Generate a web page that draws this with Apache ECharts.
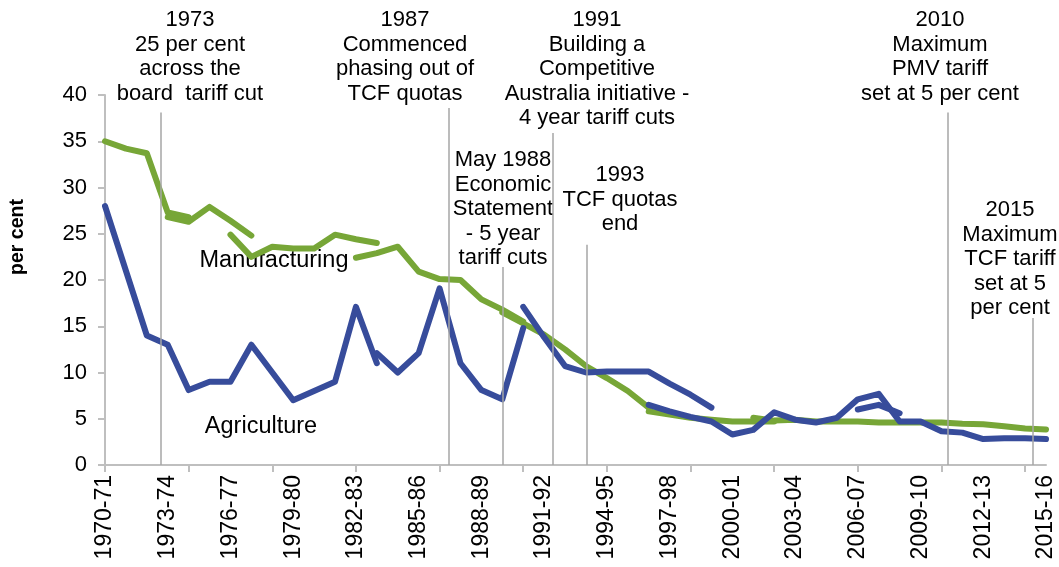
<!DOCTYPE html>
<html>
<head>
<meta charset="utf-8">
<script src="https://cdn.jsdelivr.net/npm/echarts@6.0.0/dist/echarts.min.js"></script>
<style>
  body { margin: 0; background: #fff; }
  #main { width: 1059px; height: 567px; }
</style>
</head>
<body>
<div id="main"></div>
<script>
// financial years on the category axis
var categories = ['1970-71','1971-72','1972-73','1973-74','1974-75','1975-76','1976-77','1977-78',
  '1978-79','1979-80','1980-81','1981-82','1982-83','1983-84','1984-85','1985-86','1986-87',
  '1987-88','1988-89','1989-90','1990-91','1991-92','1992-93','1993-94','1994-95','1995-96',
  '1996-97','1997-98','1998-99','1999-00','2000-01','2001-02','2002-03','2003-04','2004-05',
  '2005-06','2006-07','2007-08','2008-09','2009-10','2010-11','2011-12','2012-13','2013-14',
  '2014-15','2015-16'];

// Manufacturing: broken series (start index + values)
var mfgStarts = [0, 3, 6, 12, 19, 26, 31];
var mfgSeg1 = [35.0, 34.2, 33.7, 27.3, 26.8];
var mfgSeg2 = [26.8, 26.3, 27.9, 26.4, 24.8];
var mfgSeg3 = [24.9, 22.5, 23.6, 23.4, 23.4, 24.9, 24.4, 24.0];
var mfgSeg4 = [22.4, 22.9, 23.6, 20.9, 20.1, 20.0, 17.9, 16.8, 15.5];
var mfgSeg5 = [16.5, 15.3, 14.1, 12.5, 10.7, 9.4, 8.0, 6.2];
var mfgSeg6 = [5.8, 5.45, 5.1, 4.9, 4.7, 4.7, 4.7];
var mfgSeg7 = [5.1, 4.8, 4.9, 4.7, 4.7, 4.7, 4.6, 4.6, 4.6, 4.6, 4.45, 4.4, 4.2, 3.95, 3.85];

// Agriculture: broken series (start index + values)
var agrStarts = [0, 13, 20, 26, 36];
var agrSeg1 = [28.0, 21.0, 14.0, 13.0, 8.1, 9.0, 9.0, 13.0, 10.0, 7.0, 8.0, 9.0, 17.1, 11.0];
var agrSeg2 = [12.1, 10.0, 12.1, 19.1, 11.0, 8.1, 7.1, 14.8];
var agrSeg3 = [17.1, 13.8, 10.7, 10.0, 10.1, 10.1, 10.1, 8.8, 7.6, 6.2];
var agrSeg4 = [6.5, 5.8, 5.2, 4.7, 3.3, 3.8, 5.7, 4.9, 4.6, 5.1, 7.1, 7.7, 4.7, 4.7, 3.65, 3.5, 2.8, 2.9, 2.9, 2.8];
var agrSeg5 = [6.0, 6.5, 5.6];

// policy event markers: position in years from 1970-71, top of line (per cent)
var eventPos = [2.68, 16.45, 19.03, 21.43, 23.05, 40.32, 44.38];
var eventTop = [38.1, 38.6, 21.4, 35.9, 23.8, 38.1, 15.9];

var FONT = '"Liberation Sans", Arial, sans-serif';
var GREEN = '#77A637';
var BLUE = '#374C9B';

function pad(start, vals) {
  var d = categories.map(function () { return null; });
  vals.forEach(function (v, i) { d[start + i] = v; });
  return d;
}

function lineSeries(data, color, z) {
  return {
    type: 'line',
    data: data,
    symbol: 'none',
    connectNulls: false,
    silent: true,
    z: z,
    lineStyle: { color: color, width: 6, cap: 'round', join: 'round' }
  };
}

var series = [];
[mfgSeg1, mfgSeg2, mfgSeg3, mfgSeg4, mfgSeg5, mfgSeg6, mfgSeg7].forEach(function (s, i) {
  series.push(lineSeries(pad(mfgStarts[i], s), GREEN, 3));
});
[agrSeg1, agrSeg2, agrSeg3, agrSeg4, agrSeg5].forEach(function (s, i) {
  series.push(lineSeries(pad(agrStarts[i], s), BLUE, 4));
});

// vertical event lines on a hidden value axis
series.push({
  type: 'line',
  xAxisIndex: 1,
  data: [],
  symbol: 'none',
  silent: true,
  z: 2,
  markLine: {
    symbol: 'none',
    silent: true,
    label: { show: false },
    lineStyle: { color: '#A6A6A6', width: 1.5, type: 'solid' },
    data: eventPos.map(function (x, i) {
      return [{ coord: [x, 0] }, { coord: [x, eventTop[i]] }];
    })
  }
});

function note(x, y, text, size) {
  return {
    type: 'text',
    x: x,
    y: y,
    silent: true,
    style: {
      text: text,
      fill: '#000',
      fontSize: size || 22,
      fontFamily: FONT,
      lineHeight: 24.5,
      align: 'center',
      verticalAlign: 'top',
      textAlign: 'center',
      textVerticalAlign: 'top'
    }
  };
}

var chart = echarts.init(document.getElementById('main'));
chart.setOption({
  animation: false,
  grid: { left: 105, right: 13, top: 95, bottom: 102 },
  xAxis: [{
    type: 'category',
    data: categories,
    boundaryGap: false,
    axisLine: { lineStyle: { color: '#BFBFBF', width: 2 } },
    axisTick: { interval: 3, length: 7, lineStyle: { color: '#BFBFBF', width: 2 } },
    axisLabel: {
      interval: 2,
      rotate: 90,
      margin: 10,
      color: '#000',
      fontSize: 23,
      fontFamily: FONT
    },
    splitLine: { show: false }
  }, {
    type: 'value',
    min: 0,
    max: 45,
    show: false
  }],
  yAxis: {
    type: 'value',
    min: 0,
    max: 40,
    interval: 5,
    axisLine: { show: true, lineStyle: { color: '#BFBFBF', width: 2 } },
    axisTick: { show: true, length: 7, lineStyle: { color: '#BFBFBF', width: 2 } },
    axisLabel: { color: '#000', fontSize: 22, fontFamily: FONT, margin: 18 },
    splitLine: { show: false }
  },
  graphic: [
    {
      type: 'text',
      x: 18,
      y: 237,
      rotation: Math.PI / 2,
      silent: true,
      style: {
        text: 'per cent',
        fill: '#000',
        fontSize: 19.5,
        fontWeight: 'bold',
        fontFamily: FONT,
        align: 'center',
        verticalAlign: 'middle',
        textAlign: 'center',
        textVerticalAlign: 'middle'
      }
    },
    note(190, 8, '1973\n25 per cent\nacross the\nboard  tariff cut'),
    note(405, 8, '1987\nCommenced\nphasing out of\nTCF quotas'),
    note(597, 8, '1991\nBuilding a\nCompetitive\nAustralia initiative -\n4 year tariff cuts'),
    note(503, 148, 'May 1988\nEconomic\nStatement\n- 5 year\ntariff cuts'),
    note(620, 163, '1993\nTCF quotas\nend'),
    note(940, 8, '2010\nMaximum\nPMV tariff\nset at 5 per cent'),
    note(1010, 198, '2015\nMaximum\nTCF tariff\nset at 5\nper cent'),
    note(274, 248, 'Manufacturing', 23.5),
    note(261, 414, 'Agriculture', 23.5)
  ],
  series: series
});
</script>
</body>
</html>
